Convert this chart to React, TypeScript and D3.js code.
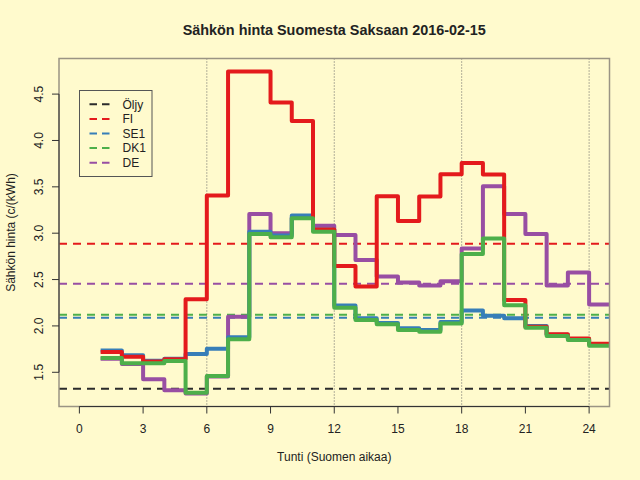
import { useEffect, useRef } from 'react';
import * as d3 from 'd3';

// hour of day (segment [h, h+1])
const hours = [1, 2, 3, 4, 5, 6, 7, 8, 9, 10, 11, 12, 13, 14, 15, 16, 17, 18, 19, 20, 21, 22, 23, 24];

// prices c/kWh
const fiPrices = [1.72, 1.668, 1.615, 1.64, 2.288, 3.406, 4.745, 4.745, 4.41, 4.21, 3.04, 2.647, 2.424, 3.398, 3.131, 3.395, 3.635, 3.757, 3.632, 2.28, 1.99, 1.91, 1.865, 1.807];
const se1Prices = [1.735, 1.684, 1.624, 1.646, 1.697, 1.755, 1.878, 3.015, 2.975, 3.192, 3.04, 2.219, 2.083, 2.032, 1.975, 1.956, 2.043, 2.165, 2.111, 2.083, 2.0, 1.905, 1.86, 1.805];
const dk1Prices = [1.655, 1.597, 1.597, 1.622, 1.278, 1.46, 1.856, 2.992, 2.955, 3.162, 3.015, 2.197, 2.064, 2.018, 1.956, 1.938, 2.025, 2.776, 2.942, 2.222, 1.98, 1.892, 1.848, 1.787];
const dePrices = [1.645, 1.59, 1.424, 1.306, 1.27, 1.455, 2.1, 3.206, 3.0, 3.17, 3.08, 2.98, 2.712, 2.532, 2.467, 2.435, 2.482, 2.834, 3.507, 3.208, 2.992, 2.435, 2.575, 2.232];

// legend entries and their horizontal reference levels
const legendLabels = ['Öljy', 'FI', 'SE1', 'DK1', 'DE'];
const averageLevels = [1.323, 2.885, 2.089, 2.12, 2.456];

const xTicks = [0, 3, 6, 9, 12, 15, 18, 21, 24];
const yTicks = [1.5, 2.0, 2.5, 3.0, 3.5, 4.0, 4.5];
const gridHours = [6, 12, 18, 24];

const colors: Record<string, string> = {
  'Öljy': '#2b2b2b',
  FI: '#e41a1c',
  SE1: '#377eb8',
  DK1: '#4daf4a',
  DE: '#984ea3'
};

const font = '"Liberation Sans", Arial, Helvetica, sans-serif';

export default function App() {
  const svgRef = useRef<SVGSVGElement>(null);

  useEffect(() => {
    if (!svgRef.current) return;
    const width = 640;
    const height = 480;
    const margin = { top: 58.5, right: 30.5, bottom: 73.5, left: 59 };

    d3.select(svgRef.current).selectAll('*').remove();
    const svg = d3.select(svgRef.current).attr('width', width).attr('height', height);

    svg.append('rect').attr('width', width).attr('height', height).style('fill', '#fffacd');

    const x0 = margin.left;
    const x1 = width - margin.right;
    const y0 = height - margin.bottom;
    const y1 = margin.top;

    // R-style 4% padding
    const xPad = (24 - 0) * 0.04;
    const x = d3.scaleLinear().domain([0 - xPad, 24 + xPad]).range([x0, x1]);

    const allValues = [...fiPrices, ...se1Prices, ...dk1Prices, ...dePrices, ...averageLevels];
    const [yMin, yMax] = d3.extent(allValues) as [number, number];
    const yPad = (yMax - yMin) * 0.04;
    const y = d3.scaleLinear().domain([yMin - yPad, yMax + yPad]).range([y0, y1]);

    svg
      .append('clipPath')
      .attr('id', 'plot-clip')
      .append('rect')
      .attr('x', x0)
      .attr('y', y1)
      .attr('width', x1 - x0)
      .attr('height', y0 - y1);

    // dotted vertical hour lines
    svg
      .selectAll('.grid')
      .data(gridHours)
      .enter()
      .append('line')
      .attr('x1', (d) => x(d))
      .attr('x2', (d) => x(d))
      .attr('y1', y1)
      .attr('y2', y0)
      .style('stroke', '#666')
      .style('stroke-width', 1)
      .style('stroke-dasharray', '1,2');

    // average levels
    svg
      .selectAll('.avg')
      .data(averageLevels)
      .enter()
      .append('line')
      .attr('x1', x0)
      .attr('x2', x1)
      .attr('y1', (d) => y(d))
      .attr('y2', (d) => y(d))
      .style('stroke', (_, i) => colors[legendLabels[i]])
      .style('stroke-width', 2)
      .style('stroke-dasharray', '8,6');

    // step lines, drawn in this order
    const series = [
      { name: 'DE', values: dePrices },
      { name: 'SE1', values: se1Prices },
      { name: 'FI', values: fiPrices },
      { name: 'DK1', values: dk1Prices }
    ];

    const step = d3
      .line<[number, number]>()
      .x((d) => x(d[0]))
      .y((d) => y(d[1]))
      .curve(d3.curveStepAfter);

    const plot = svg.append('g').attr('clip-path', 'url(#plot-clip)');
    series.forEach((s) => {
      const pts: [number, number][] = hours.map((h, i) => [h, s.values[i]]);
      pts.push([hours[hours.length - 1] + 1, s.values[s.values.length - 1]]);
      plot
        .append('path')
        .datum(pts)
        .attr('d', step)
        .style('fill', 'none')
        .style('stroke', colors[s.name])
        .style('stroke-width', 4)
        .style('stroke-linejoin', 'round');
    });

    // plot box
    svg
      .append('rect')
      .attr('x', x0)
      .attr('y', y1)
      .attr('width', x1 - x0)
      .attr('height', y0 - y1)
      .style('fill', 'none')
      .style('stroke', '#9a9484')
      .style('stroke-width', 1.5);

    // x axis
    const xAxis = svg.append('g');
    xAxis
      .append('line')
      .attr('x1', x(xTicks[0]))
      .attr('x2', x(xTicks[xTicks.length - 1]))
      .attr('y1', y0)
      .attr('y2', y0)
      .style('stroke', '#333');
    xAxis
      .selectAll('.xt')
      .data(xTicks)
      .enter()
      .append('line')
      .attr('x1', (d) => x(d))
      .attr('x2', (d) => x(d))
      .attr('y1', y0)
      .attr('y2', y0 + 7)
      .style('stroke', '#333');
    xAxis
      .selectAll('.xl')
      .data(xTicks)
      .enter()
      .append('text')
      .attr('x', (d) => x(d))
      .attr('y', y0 + 26)
      .text((d) => String(d))
      .style('text-anchor', 'middle')
      .style('font-size', '12px')
      .style('font-family', font)
      .style('fill', '#222');

    // y axis
    const yAxis = svg.append('g');
    yAxis
      .append('line')
      .attr('x1', x0)
      .attr('x2', x0)
      .attr('y1', y(yTicks[0]))
      .attr('y2', y(yTicks[yTicks.length - 1]))
      .style('stroke', '#333');
    yAxis
      .selectAll('.yt')
      .data(yTicks)
      .enter()
      .append('line')
      .attr('x1', x0 - 7)
      .attr('x2', x0)
      .attr('y1', (d) => y(d))
      .attr('y2', (d) => y(d))
      .style('stroke', '#333');
    yAxis
      .selectAll('.yl')
      .data(yTicks)
      .enter()
      .append('text')
      .attr('transform', (d) => `translate(${x0 - 16},${y(d)}) rotate(-90)`)
      .text((d) => d3.format('.1f')(d))
      .style('text-anchor', 'middle')
      .style('font-size', '12px')
      .style('font-family', font)
      .style('fill', '#222');

    // titles
    const cx = (x0 + x1) / 2;
    svg
      .append('text')
      .attr('x', cx)
      .attr('y', 35)
      .text('Sähkön hinta Suomesta Saksaan 2016-02-15')
      .style('text-anchor', 'middle')
      .style('font-size', '14.4px')
      .style('font-weight', 'bold')
      .style('font-family', font)
      .style('fill', '#222');
    svg
      .append('text')
      .attr('x', cx)
      .attr('y', 461)
      .text('Tunti (Suomen aikaa)')
      .style('text-anchor', 'middle')
      .style('font-size', '12px')
      .style('font-family', font)
      .style('fill', '#222');
    svg
      .append('text')
      .attr('transform', `translate(15,${(y0 + y1) / 2}) rotate(-90)`)
      .text('Sähkön hinta (c/(kWh)')
      .style('text-anchor', 'middle')
      .style('font-size', '12px')
      .style('font-family', font)
      .style('fill', '#222');

    // legend
    const lg = svg.append('g').attr('transform', 'translate(79.5,90.5)');
    lg.append('rect')
      .attr('width', 72.5)
      .attr('height', 86)
      .style('fill', 'none')
      .style('stroke', '#555')
      .style('stroke-width', 1);
    const items = lg
      .selectAll('.item')
      .data(legendLabels)
      .enter()
      .append('g')
      .attr('transform', (_, i) => `translate(0,${13.8 + i * 14.6})`);
    items
      .append('line')
      .attr('x1', 10)
      .attr('x2', 30)
      .attr('y1', 0)
      .attr('y2', 0)
      .style('stroke', (d) => colors[d])
      .style('stroke-width', 2)
      .style('stroke-dasharray', '7.5,5');
    items
      .append('text')
      .attr('x', 43)
      .attr('y', 4.3)
      .text((d) => d)
      .style('font-size', '12px')
      .style('font-family', font)
      .style('fill', '#222');
  }, []);

  return <svg ref={svgRef} style={{ position: 'absolute', left: 0, top: 0, display: 'block' }} />;
}
